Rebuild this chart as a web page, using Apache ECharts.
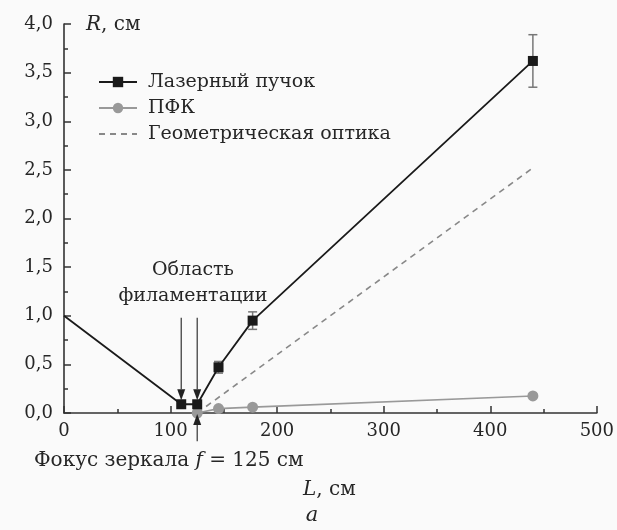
<!DOCTYPE html>
<html><head><meta charset="utf-8">
<script src="https://cdn.jsdelivr.net/npm/echarts@6/dist/echarts.min.js"></script>
<style>html,body{margin:0;padding:0;background:#fafafa}#c{width:617px;height:530px}</style>
</head><body><div id="c"></div>
<script>
// Laser beam
const laserL = [0, 110, 125, 145, 177, 440];
const laserR = [1.0, 0.09, 0.09, 0.47, 0.95, 3.62];
const laserErr = [0, 0, 0, 0.06, 0.09, 0.27];
// ПФК
const pfkL = [125, 145, 177, 440];
const pfkR = [0.0, 0.045, 0.06, 0.175];
// Geometric optics
const geoL = [125, 440];
const geoR = [0.0, 2.52];
// Arrows (data coords): [L, from R, to R]
const arrows = [[110, 0.98, 0.13], [125, 0.98, 0.13], [125, -0.29, -0.01]];
const xTicks = [0, 100, 200, 300, 400, 500];
const yTicks = [0, 0.5, 1, 1.5, 2, 2.5, 3, 3.5, 4];

const FONT = 'DejaVu Serif';
const TXT = '#262626';
const chart = echarts.init(document.getElementById('c'));
const zip = (a, b) => a.map((v, i) => [v, b[i]]);
const italic = {i: {fontFamily: FONT, fontStyle: 'italic', fontSize: 20, fill: TXT}};

chart.setOption({
  backgroundColor: '#fafafa',
  animation: false,
  grid: {left: 64, right: 20, top: 24, bottom: 117},
  xAxis: {
    type: 'value', min: xTicks[0], max: xTicks[xTicks.length - 1], interval: 100,
    axisLine: {show: true, onZero: false, lineStyle: {color: '#333', width: 1.6}},
    axisTick: {show: true, inside: true, length: 7, lineStyle: {color: '#333', width: 1.5}},
    minorTick: {show: true, splitNumber: 2, length: 4, lineStyle: {color: '#333', width: 1.5}},
    splitLine: {show: false},
    axisLabel: {fontFamily: FONT, fontSize: 18, color: TXT, margin: 9}
  },
  yAxis: {
    type: 'value', min: yTicks[0], max: yTicks[yTicks.length - 1], interval: 0.5,
    axisLine: {show: true, onZero: false, lineStyle: {color: '#333', width: 1.6}},
    axisTick: {show: true, inside: true, length: 7, lineStyle: {color: '#333', width: 1.5}},
    minorTick: {show: true, splitNumber: 2, length: 4, lineStyle: {color: '#333', width: 1.5}},
    splitLine: {show: false},
    axisLabel: {fontFamily: FONT, fontSize: 18, color: TXT, margin: 11,
      formatter: v => v.toFixed(1).replace('.', ',')}
  },
  legend: {
    left: 93, top: 67, orient: 'vertical', itemWidth: 38, itemHeight: 13, itemGap: 6,
    textStyle: {fontFamily: FONT, fontSize: 19, color: TXT, padding: [0, 0, 0, 6], lineHeight: 20},
    data: [
      {name: 'Лазерный пучок'},
      {name: 'ПФК'},
      {name: 'Геометрическая оптика', itemStyle: {opacity: 0}}
    ]
  },
  series: [
    {
      name: 'Геометрическая оптика', type: 'line', data: zip(geoL, geoR),
      symbol: 'none', lineStyle: {color: '#888', width: 1.6, type: [6, 5]}, itemStyle: {color: '#888'}, z: 1
    },
    {
      name: 'ПФК', type: 'line', data: zip(pfkL, pfkR),
      symbol: 'circle', symbolSize: 11,
      lineStyle: {color: '#999', width: 1.6}, itemStyle: {color: '#999'}, z: 2
    },
    {
      name: 'Лазерный пучок', type: 'line',
      data: zip(laserL, laserR).map((d, i) => i === 0 ? {value: d, symbol: 'none'} : d),
      symbol: 'rect', symbolSize: 10,
      lineStyle: {color: '#1a1a1a', width: 1.8}, itemStyle: {color: '#1a1a1a'}, z: 4
    },
    {
      type: 'custom', z: 3, silent: true,
      data: laserL.map((l, i) => [l, laserR[i], laserErr[i]]),
      renderItem: (params, api) => {
        const e = api.value(2);
        if (!e) return null;
        const x = api.value(0), y = api.value(1);
        const top = api.coord([x, y + e]), bot = api.coord([x, y - e]);
        const w = 4.5;
        const st = {stroke: '#777', lineWidth: 1.5};
        return {type: 'group', children: [
          {type: 'line', shape: {x1: top[0], y1: top[1], x2: bot[0], y2: bot[1]}, style: st},
          {type: 'line', shape: {x1: top[0] - w, y1: top[1], x2: top[0] + w, y2: top[1]}, style: st},
          {type: 'line', shape: {x1: bot[0] - w, y1: bot[1], x2: bot[0] + w, y2: bot[1]}, style: st}
        ]};
      }
    },
    {
      type: 'custom', z: 5, silent: true, clip: false,
      data: arrows,
      renderItem: (params, api) => {
        const x = api.value(0);
        const a = api.coord([x, api.value(1)]), b = api.coord([x, api.value(2)]);
        const dir = b[1] > a[1] ? 1 : -1;
        const hl = 11, hw = 4;
        return {type: 'group', children: [
          {type: 'line', shape: {x1: a[0], y1: a[1], x2: b[0], y2: b[1] - dir * hl}, style: {stroke: '#333', lineWidth: 1.2}},
          {type: 'polygon', shape: {points: [[b[0], b[1]], [b[0] - hw, b[1] - dir * hl], [b[0] + hw, b[1] - dir * hl]]}, style: {fill: '#222'}}
        ]};
      }
    }
  ],
  graphic: [
    {type: 'text', x: 86, y: 25, style: {
      text: '{i|R}, см', fill: TXT, font: '20px ' + FONT, verticalAlign: 'middle', rich: italic}},
    {type: 'text', x: 193, y: 270, style: {text: 'Область', fill: TXT, font: '19px ' + FONT, align: 'center', verticalAlign: 'middle'}},
    {type: 'text', x: 193, y: 296, style: {text: 'филаментации', fill: TXT, font: '19px ' + FONT, align: 'center', verticalAlign: 'middle'}},
    {type: 'text', x: 34, y: 461, style: {
      text: 'Фокус зеркала {i|f} = 125 см', fill: TXT, font: '20px ' + FONT, verticalAlign: 'middle', rich: italic}},
    {type: 'text', x: 303, y: 490, style: {
      text: '{i|L}, см', fill: TXT, font: '20px ' + FONT, verticalAlign: 'middle', rich: italic}},
    {type: 'text', x: 312, y: 516, style: {
      text: 'a', fill: TXT, font: 'italic 21px ' + FONT, align: 'center', verticalAlign: 'middle'}}
  ]
});
</script></body></html>
